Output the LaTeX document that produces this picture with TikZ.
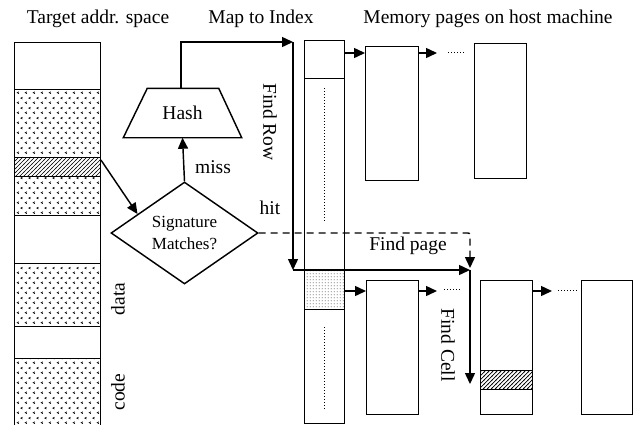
\documentclass[tikz,border=0pt]{standalone}
\usepackage{fontspec}
\setmainfont{Liberation Serif}
\usetikzlibrary{arrows.meta,shapes.geometric,patterns}

% small chevron marks used for the mapped regions of the address space
\pgfdeclarepatternformonly{chevrons}{\pgfqpoint{0pt}{0pt}}{\pgfqpoint{8pt}{10pt}}{\pgfqpoint{8pt}{10pt}}{%
  \pgfsetlinewidth{0.7pt}%
  \pgfpathmoveto{\pgfqpoint{3.2pt}{3.5pt}}\pgfpathlineto{\pgfqpoint{1.4pt}{2.5pt}}\pgfpathlineto{\pgfqpoint{3.2pt}{1.5pt}}%
  \pgfpathmoveto{\pgfqpoint{7.2pt}{8.5pt}}\pgfpathlineto{\pgfqpoint{5.4pt}{7.5pt}}\pgfpathlineto{\pgfqpoint{7.2pt}{6.5pt}}%
  \pgfusepath{stroke}}
% fine dots for the selected index row
\pgfdeclarepatternformonly{finedots}{\pgfqpoint{0pt}{0pt}}{\pgfqpoint{3pt}{3pt}}{\pgfqpoint{3pt}{3pt}}{%
  \pgfpathcircle{\pgfqpoint{1.5pt}{1.5pt}}{0.65pt}\pgfusepath{fill}}
% diagonal hatching for the looked-up cell
\pgfdeclarepatternformonly{hatch}{\pgfqpoint{-1pt}{-1pt}}{\pgfqpoint{5pt}{5pt}}{\pgfqpoint{4pt}{4pt}}{%
  \pgfsetlinewidth{0.7pt}%
  \pgfpathmoveto{\pgfqpoint{-0.5pt}{-0.5pt}}\pgfpathlineto{\pgfqpoint{4.5pt}{4.5pt}}\pgfusepath{stroke}}

\tikzset{
  txt/.style={font=\fontsize{19.5}{21}\selectfont, inner sep=0pt},
  blk/.style={draw, rectangle, inner sep=0pt, anchor=north west},
  page/.style={blk, fill=white},
  arr/.style={-{Triangle[length=11pt,width=10pt]}},
  dotline/.style={line width=1pt, dotted},
}

\begin{document}
\begin{tikzpicture}[x=1pt, y=-1pt, line width=1.45pt]
\useasboundingbox (0,0) rectangle (634,424);
\clip (0,0) rectangle (634,424);

% titles
\node[txt] (t1) at (98,19) {Target addr. space};
\node[txt] (t2) at (261,19) {Map to Index};
\node[txt] (t3) at (488,19) {Memory pages on host machine};

% target address space column
\node[blk, minimum width=85.5pt, minimum height=47pt] (a1) at (14,42) {};
\node[blk, minimum width=85.5pt, minimum height=68pt, pattern=chevrons] (a2) at (14,89) {};
\node[blk, minimum width=85.5pt, minimum height=19pt, pattern=hatch] (hb) at (14,157) {};
\node[blk, minimum width=85.5pt, minimum height=39pt, pattern=chevrons] (a3) at (14,176) {};
\node[blk, minimum width=85.5pt, minimum height=48pt] (a4) at (14,215) {};
\node[blk, minimum width=85.5pt, minimum height=63pt, pattern=chevrons] (a5) at (14,263) {};
\node[blk, minimum width=85.5pt, minimum height=32pt] (a6) at (14,326) {};
\node[blk, minimum width=85.5pt, minimum height=80pt, pattern=chevrons] (a7) at (14,358) {};
\node[txt, rotate=90] (ldata) at (118,299) {data};
\node[txt, rotate=90] (lcode) at (118,392) {code};

% hash block: a trapezoid drawn on the anchors of its label box
\node[txt, minimum width=117pt, minimum height=48pt] (hash) at (182.5,113) {Hash};
\draw ([xshift=0pt]hash.south west) -- ([xshift=24pt]hash.north west)
  -- ([xshift=-23pt]hash.north east) -- (hash.south east) -- cycle;

% signature check
\node[draw, diamond, aspect=1.44, inner sep=0pt, minimum width=147pt, minimum height=102pt,
      align=center, font=\fontsize{17}{22}\selectfont] (sig) at (184.5,233) {Signature\\Matches?};
\node[txt] (lmiss) at (213,167) {miss};
\node[txt] (lhit) at (270,208) {hit};

% index table
\node[blk, minimum width=40pt, minimum height=383pt] (idx) at (304,40) {};
\node[blk, minimum width=40pt, minimum height=38pt] (idxtop) at (304,40) {};
\node[blk, minimum width=40pt, minimum height=39pt, pattern=finedots, pattern color=black!85] (idxrow) at (304,270) {};
\coordinate (d1a) at (324,88);  \coordinate (d1b) at (324,222);
\coordinate (d2a) at (324,327); \coordinate (d2b) at (324,409);
\draw[dotline] (d1a) -- (d1b);
\draw[dotline] (d2a) -- (d2b);

% memory pages, upper chain
\node[page, minimum width=53pt, minimum height=134pt] (p1) at (365,46) {};
\node[page, minimum width=52pt, minimum height=135pt] (p2) at (474,43) {};
% memory pages, lower chain
\node[page, minimum width=52pt, minimum height=134pt] (q1) at (366,280) {};
\node[page, minimum width=52pt, minimum height=134pt] (q2) at (480,280) {};
\node[blk, minimum width=52pt, minimum height=19pt, pattern=hatch] (cell) at (480,370) {};
\node[page, minimum width=51pt, minimum height=134pt] (q3) at (581,280) {};

% chain links
\coordinate (u1) at (437,53);
\coordinate (u2a) at (448,52); \coordinate (u2b) at (465,52);
\draw[arr] (idx.east |- 0,53) -- (p1.west |- 0,53);
\draw[arr] (p1.east |- u1) -- (u1);
\draw[dotline] (u2a) -- (u2b);

\coordinate (v1) at (437,291);
\coordinate (v2a) at (444,289); \coordinate (v2b) at (462,289);
\coordinate (w1) at (552,291);
\coordinate (w2a) at (558,290); \coordinate (w2b) at (577,290);
\draw[arr] (idx.east |- 0,291) -- (q1.west |- 0,291);
\draw[arr] (q1.east |- v1) -- (v1);
\draw[dotline] (v2a) -- (v2b);
\draw[arr] (q2.east |- w1) -- (w1);
\draw[dotline] (w2a) -- (w2b);

% lookup flow
\coordinate (mapc) at (293,42);
\coordinate (rowc) at (293,270);
\coordinate (fp) at (470,270);
\coordinate (fc) at (470,384);
\draw[arr] ([yshift=-3pt]hb.north east) -- (sig.158);
\draw[arr] (sig.north) -- (hash.south);
\draw[arr] (hash.north -| 181,0) |- (mapc);
\draw[arr] (mapc) -- (rowc);
\draw[arr] (rowc) -- (fp);
\draw[arr, dash pattern=on 7pt off 5pt, rounded corners=2pt] (sig.east) -| ([yshift=2pt]fp);
\draw[arr] (fp) -- (fc);

\node[txt, rotate=-90] (lrow) at (270,122) {Find Row};
\node[txt] (lpage) at (408,246) {Find page};
\node[txt, rotate=-90] (lcell) at (448,345) {Find Cell};
\end{tikzpicture}
\end{document}
